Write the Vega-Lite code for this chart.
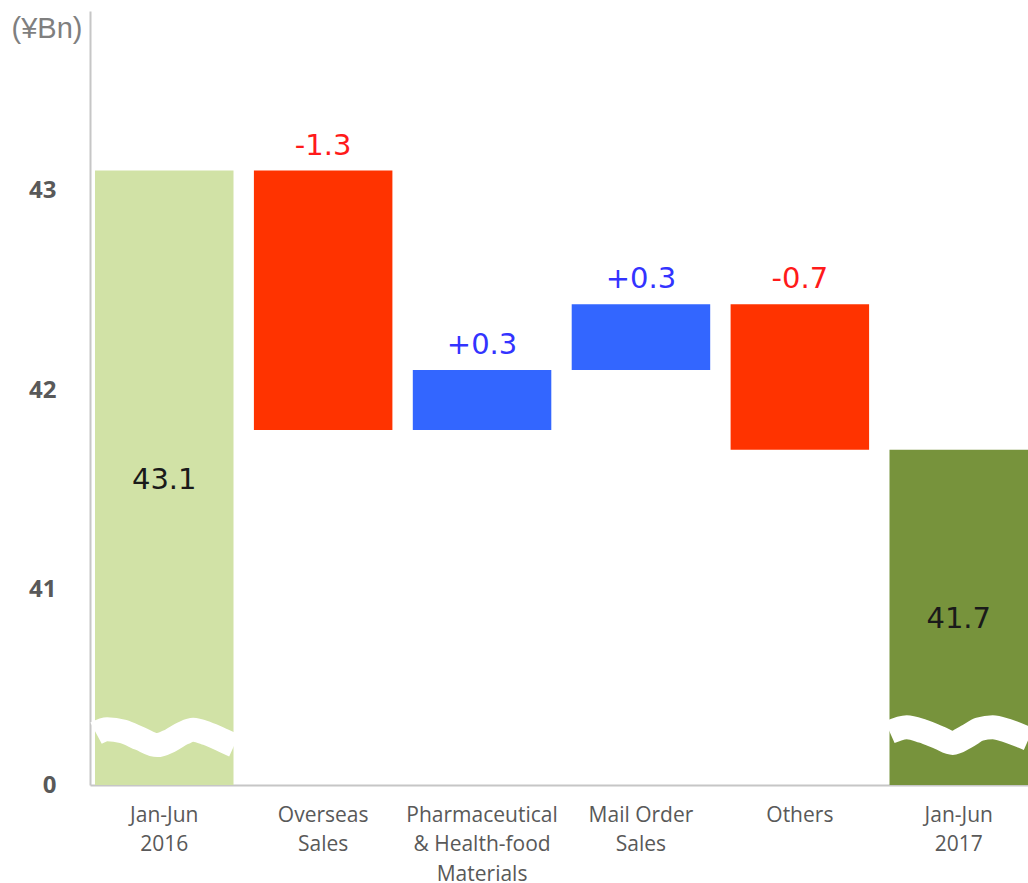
{
  "$schema": "https://vega.github.io/schema/vega-lite/v6.json",
  "width": 938,
  "height": 774,
  "autosize": {"type": "none"},
  "padding": {"left": 90, "top": 11, "right": 0, "bottom": 98},
  "background": "white",
  "config": {
    "view": {"stroke": null},
    "axis": {"grid": false}
  },
  "datasets": {
    "bars": [
      {"cat": "Jan-Jun|2016", "start": 40, "end": 43.1, "label": "43.1", "type": "total1"},
      {"cat": "Overseas|Sales", "start": 43.1, "end": 41.8, "label": "-1.3", "type": "neg"},
      {"cat": "Pharmaceutical|& Health-food|Materials", "start": 41.8, "end": 42.1, "label": "+0.3", "type": "pos"},
      {"cat": "Mail Order|Sales", "start": 42.1, "end": 42.43, "label": "+0.3", "type": "pos"},
      {"cat": "Others", "start": 42.43, "end": 41.7, "label": "-0.7", "type": "neg"},
      {"cat": "Jan-Jun|2017", "start": 41.7, "end": 40, "label": "41.7", "type": "total2"}
    ],
    "waves": [
      {"g": "a", "wx": -0.432, "wy": 40.280},
      {"g": "a", "wx": -0.362, "wy": 40.300},
      {"g": "a", "wx": -0.261, "wy": 40.288},
      {"g": "a", "wx": -0.154, "wy": 40.252},
      {"g": "a", "wx": -0.047, "wy": 40.220},
      {"g": "a", "wx": 0.035, "wy": 40.243},
      {"g": "a", "wx": 0.116, "wy": 40.280},
      {"g": "a", "wx": 0.179, "wy": 40.297},
      {"g": "a", "wx": 0.267, "wy": 40.278},
      {"g": "a", "wx": 0.368, "wy": 40.243},
      {"g": "a", "wx": 0.437, "wy": 40.218},
      {"g": "b", "wx": 4.563, "wy": 40.285},
      {"g": "b", "wx": 4.670, "wy": 40.310},
      {"g": "b", "wx": 4.770, "wy": 40.290},
      {"g": "b", "wx": 4.877, "wy": 40.256},
      {"g": "b", "wx": 4.959, "wy": 40.231},
      {"g": "b", "wx": 5.047, "wy": 40.263},
      {"g": "b", "wx": 5.129, "wy": 40.300},
      {"g": "b", "wx": 5.211, "wy": 40.310},
      {"g": "b", "wx": 5.299, "wy": 40.293},
      {"g": "b", "wx": 5.399, "wy": 40.263},
      {"g": "b", "wx": 5.437, "wy": 40.250}
    ]
  },
  "layer": [
    {
      "data": {"name": "bars"},
      "layer": [
        {
          "mark": {"type": "bar", "clip": true},
          "encoding": {
            "x": {
              "field": "cat", "type": "nominal", "sort": null,
              "scale": {
                "domain": ["Jan-Jun|2016", "Overseas|Sales", "Pharmaceutical|& Health-food|Materials", "Mail Order|Sales", "Others", "Jan-Jun|2017"],
                "paddingInner": 0.1284, "paddingOuter": 0.01575, "align": 1
              },
              "axis": {
                "title": null,
                "labelExpr": "split(datum.label, '|')",
                "labelAngle": 0,
                "labelFont": "Open Sans",
                "labelFontSize": 21,
                "labelColor": "#595959",
                "labelLineHeight": 29.5,
                "labelBaseline": "top",
                "labelPadding": 19,
                "labelLimit": 0,
                "ticks": false,
                "tickSize": 0,
                "domainColor": "#c6c6c6",
                "domainWidth": 2
              }
            },
            "y": {
              "field": "start", "type": "quantitative",
              "scale": {"domain": [40.02, 43.9], "nice": false, "zero": false},
              "axis": {
                "values": [40.02, 41, 42, 43],
                "labelExpr": "datum.value < 40.5 ? '0' : format(datum.value, 'd')",
                "labelFont": "Open Sans",
                "labelFontWeight": "bold",
                "labelFontSize": 24,
                "labelColor": "#595959",
                "labelPadding": 34,
                "ticks": false,
                "tickSize": 0,
                "domainColor": "#c6c6c6",
                "domainWidth": 2,
                "title": "(¥Bn)",
                "titleAngle": 0,
                "titleAlign": "left",
                "titleBaseline": "middle",
                "titleX": -79,
                "titleY": 17,
                "titleFont": "Liberation Sans",
                "titleFontSize": 29,
                "titleFontWeight": "normal",
                "titleColor": "#7f7f7f"
              }
            },
            "y2": {"field": "end"},
            "color": {
              "field": "type", "type": "nominal", "legend": null,
              "scale": {"domain": ["total1", "neg", "pos", "total2"], "range": ["#d1e2a6", "#ff3300", "#3366ff", "#77933c"]}
            }
          }
        },
        {
          "transform": [
            {"filter": "datum.type == 'neg' || datum.type == 'pos'"},
            {"calculate": "max(datum.start, datum.end)", "as": "top"}
          ],
          "mark": {"type": "text", "font": "DejaVu Sans", "fontSize": 29, "baseline": "alphabetic", "dy": -16},
          "encoding": {
            "x": {"field": "cat", "type": "nominal", "sort": null},
            "y": {"field": "top", "type": "quantitative", "scale": {"domain": [40.02, 43.9], "nice": false, "zero": false}},
            "text": {"field": "label"},
            "color": {"condition": {"test": "datum.type == 'neg'", "value": "#ff1a1a"}, "value": "#3333ff"}
          }
        },
        {
          "transform": [
            {"filter": "datum.type == 'total1' || datum.type == 'total2'"},
            {"calculate": "(datum.start + datum.end) / 2", "as": "mid"}
          ],
          "mark": {"type": "text", "font": "DejaVu Sans", "fontSize": 29, "baseline": "middle", "color": "#1a1a1a"},
          "encoding": {
            "x": {"field": "cat", "type": "nominal", "sort": null},
            "y": {"field": "mid", "type": "quantitative", "scale": {"domain": [40.02, 43.9], "nice": false, "zero": false}},
            "text": {"field": "label"}
          }
        }
      ]
    },
    {
      "data": {"name": "waves"},
      "mark": {"type": "line", "color": "white", "strokeWidth": 24, "interpolate": "monotone", "strokeCap": "butt"},
      "encoding": {
        "x": {"field": "wx", "type": "quantitative", "scale": {"domain": [-0.4701, 5.4330], "nice": false, "zero": false}, "axis": null},
        "y": {"field": "wy", "type": "quantitative", "scale": {"domain": [40.02, 43.9], "nice": false, "zero": false}},
        "detail": {"field": "g"}
      }
    }
  ],
  "resolve": {"scale": {"x": "independent"}}
}
